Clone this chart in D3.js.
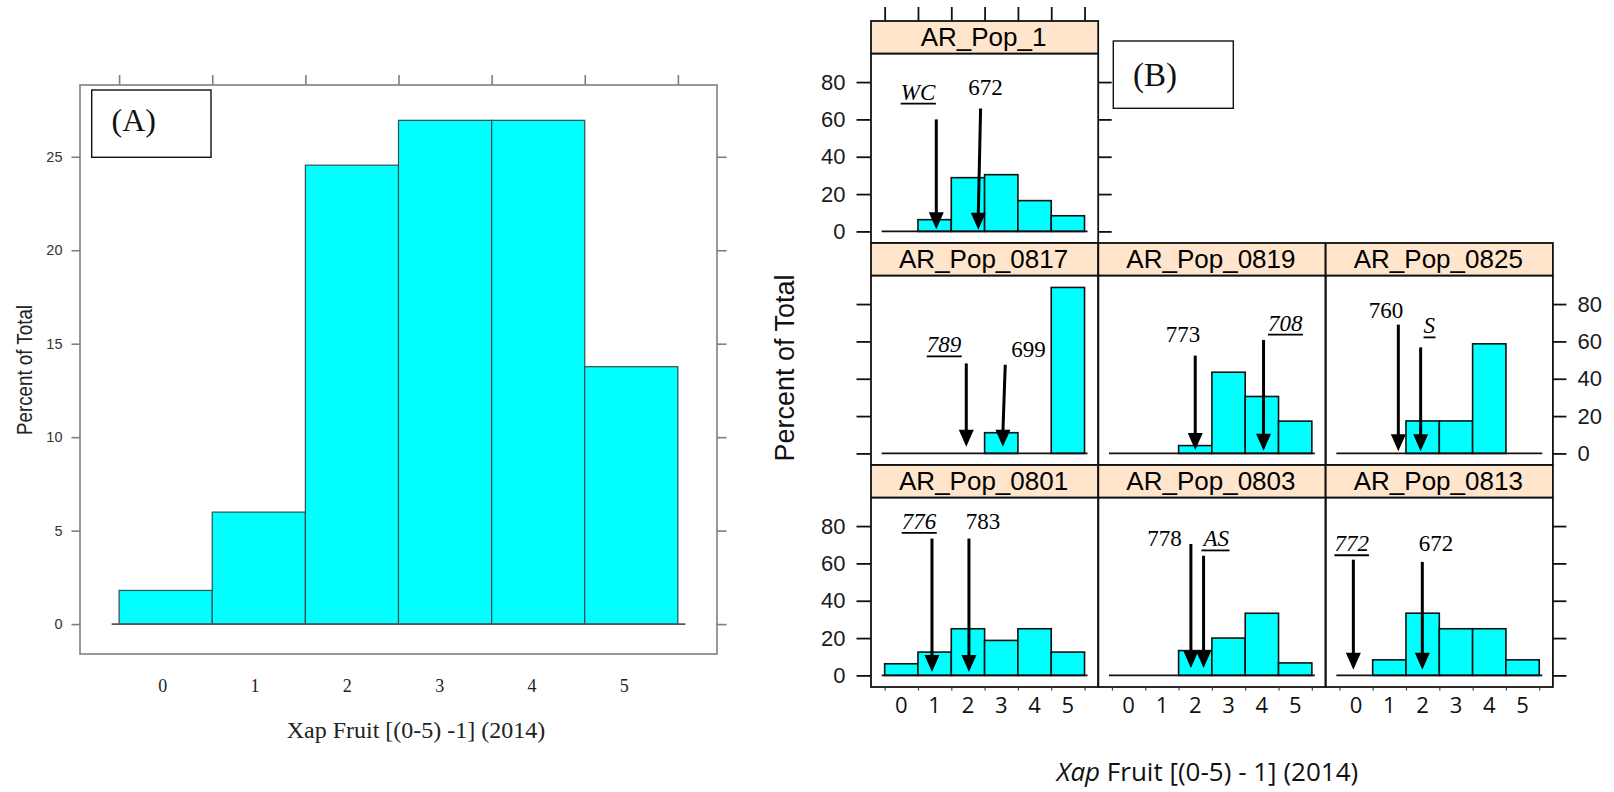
<!DOCTYPE html>
<html>
<head>
<meta charset="utf-8">
<script src="https://cdn.jsdelivr.net/npm/d3@7"></script>
<style>
  html, body { margin: 0; padding: 0; background: #fff; }
  svg { display: block; }
</style>
</head>
<body>
<svg id="chart" width="1614" height="792"></svg>
<script>
// Fruit score classes (0-5) used as histogram bins
const binLabels = [0, 1, 2, 3, 4, 5];

// (A) percentage of all plants in each class
const overallPct = [1.80, 5.99, 24.55, 26.95, 26.95, 13.77];
const overallTicks = [0, 5, 10, 15, 20, 25];

// (B) percentage per population
const panelNames = ["AR_Pop_1", "AR_Pop_0817", "AR_Pop_0819", "AR_Pop_0825",
                    "AR_Pop_0801", "AR_Pop_0803", "AR_Pop_0813"];
const pop1Pct    = [0, 6.3, 28.8, 30.4, 16.5, 8.4];
const pop0817Pct = [0, 0, 0, 11.1, 0, 88.9];
const pop0819Pct = [0, 0, 4.2, 43.5, 30.5, 17.3];
const pop0825Pct = [0, 0, 17.4, 17.4, 58.7, 0];
const pop0801Pct = [6.25, 12.5, 25, 18.75, 25, 12.5];
const pop0803Pct = [0, 0, 13.3, 20.0, 33.3, 6.7];
const pop0813Pct = [0, 8.33, 33.33, 25, 25, 8.33];
const popTicks = [0, 20, 40, 60, 80];

// Parent / reference genotype scores marked with arrows (data units).
// italic = reference line (drawn italic and underlined)
const markers = [
  {panel: "AR_Pop_1",    text: "WC",  italic: true,  x: 1.05, xTip: 1.05, top: 60,   tip: 1.2, lx: 0.50, ly: 70.6},
  {panel: "AR_Pop_1",    text: "672", italic: false, x: 2.38, xTip: 2.31, top: 65.8, tip: 0.9, lx: 2.53, ly: 72.9},
  {panel: "AR_Pop_0817", text: "789", italic: true,  x: 1.95, xTip: 1.95, top: 48.2, tip: 3.6, lx: 1.28, ly: 54.1},
  {panel: "AR_Pop_0817", text: "699", italic: false, x: 3.12, xTip: 3.05, top: 47.5, tip: 3.6, lx: 3.82, ly: 51.8},
  {panel: "AR_Pop_0819", text: "773", italic: false, x: 2.00, xTip: 2.00, top: 52.4, tip: 1.8, lx: 1.63, ly: 59.5},
  {panel: "AR_Pop_0819", text: "708", italic: true,  x: 4.05, xTip: 4.05, top: 60.8, tip: 1.4, lx: 4.70, ly: 65.8},
  {panel: "AR_Pop_0825", text: "760", italic: false, x: 1.27, xTip: 1.27, top: 69.0, tip: 1.1, lx: 0.90, ly: 72.6},
  {panel: "AR_Pop_0825", text: "S",   italic: true,  x: 1.94, xTip: 1.94, top: 56.8, tip: 1.1, lx: 2.20, ly: 64.3},
  {panel: "AR_Pop_0801", text: "776", italic: true,  x: 0.92, xTip: 0.92, top: 73.3, tip: 1.8, lx: 0.53, ly: 78.5},
  {panel: "AR_Pop_0801", text: "783", italic: false, x: 2.03, xTip: 2.03, top: 73.3, tip: 1.8, lx: 2.45, ly: 78.5},
  {panel: "AR_Pop_0803", text: "778", italic: false, x: 1.87, xTip: 1.87, top: 70.4, tip: 4.0, lx: 1.08, ly: 69.5},
  {panel: "AR_Pop_0803", text: "AS",  italic: true,  x: 2.25, xTip: 2.25, top: 64.1, tip: 4.0, lx: 2.63, ly: 69.1},
  {panel: "AR_Pop_0813", text: "772", italic: true,  x: -0.08, xTip: -0.08, top: 62.0, tip: 3.1, lx: -0.13, ly: 66.5},
  {panel: "AR_Pop_0813", text: "672", italic: false, x: 1.99, xTip: 1.99, top: 60.8, tip: 3.1, lx: 2.40, ly: 66.5}
];

const popValues = {
  "AR_Pop_1": pop1Pct, "AR_Pop_0817": pop0817Pct, "AR_Pop_0819": pop0819Pct,
  "AR_Pop_0825": pop0825Pct, "AR_Pop_0801": pop0801Pct, "AR_Pop_0803": pop0803Pct,
  "AR_Pop_0813": pop0813Pct
};

const SANS = "'Liberation Sans', Arial, Helvetica, sans-serif";
const SERIF = "'Liberation Serif', 'Times New Roman', serif";
const CAL = "'Open Sans', 'Noto Sans', sans-serif";
const CYAN = "#00ffff";

const svg = d3.select("#chart");

/* ------------------------------------------------------------------ */
/* (A) overall histogram                                               */
/* ------------------------------------------------------------------ */
(function drawOverall() {
  const box = {left: 80, right: 717, top: 85, bottom: 654};
  const gray = "#7f7f7f";
  const x = d3.scaleLinear().domain([-0.92, 5.92]).range([box.left, box.right]);
  const y = d3.scaleLinear().domain([-1.6, 28.84]).range([box.bottom, box.top]);
  const g = svg.append("g").attr("class", "panel-a");
  const edges = d3.range(binLabels.length + 1).map(i => i - 0.5);

  // bars
  g.selectAll("rect.bar").data(overallPct).join("rect")
    .attr("class", "bar")
    .attr("x", (d, i) => x(binLabels[i] - 0.5))
    .attr("width", (d, i) => x(binLabels[i] + 0.5) - x(binLabels[i] - 0.5))
    .attr("y", d => y(d))
    .attr("height", d => y(0) - y(d))
    .attr("fill", CYAN)
    .attr("stroke", "#2f4f4f")
    .attr("stroke-width", 1.2);

  // zero line
  g.append("line")
    .attr("x1", x(-0.58)).attr("x2", x(5.58))
    .attr("y1", y(0)).attr("y2", y(0))
    .attr("stroke", "#555").attr("stroke-width", 1.6);

  // frame
  g.append("rect")
    .attr("x", box.left).attr("y", box.top)
    .attr("width", box.right - box.left).attr("height", box.bottom - box.top)
    .attr("fill", "none").attr("stroke", gray).attr("stroke-width", 1.6);

  // left axis with labels
  const left = g.append("g").attr("transform", `translate(${box.left},0)`)
    .call(d3.axisLeft(y).tickValues(overallTicks).tickSize(8.5).tickPadding(9).tickFormat(d3.format("d")));
  left.select(".domain").remove();
  left.selectAll("line").attr("stroke", gray).attr("stroke-width", 1.6);
  left.selectAll("text").attr("font-family", SANS).attr("font-size", 14.5).attr("fill", "#333");

  // right axis, ticks only
  const right = g.append("g").attr("transform", `translate(${box.right},0)`)
    .call(d3.axisRight(y).tickValues(overallTicks).tickSize(9.5).tickFormat(""));
  right.select(".domain").remove();
  right.selectAll("line").attr("stroke", gray).attr("stroke-width", 1.6);

  // top axis, ticks at bin edges
  const top = g.append("g").attr("transform", `translate(0,${box.top})`)
    .call(d3.axisTop(x).tickValues(edges).tickSize(10).tickFormat(""));
  top.select(".domain").remove();
  top.selectAll("line").attr("stroke", gray).attr("stroke-width", 1.6);

  // bottom class labels
  g.selectAll("text.xlab").data(binLabels).join("text")
    .attr("class", "xlab")
    .attr("x", d => x(d) - 3 - d * 0.8)
    .attr("y", 692)
    .attr("text-anchor", "middle")
    .attr("font-family", SERIF).attr("font-size", 18).attr("fill", "#222")
    .text(d => d);

  // axis titles
  g.append("text")
    .attr("x", 416).attr("y", 738)
    .attr("text-anchor", "middle")
    .attr("font-family", SERIF).attr("font-size", 24).attr("fill", "#222")
    .text("Xap Fruit [(0-5) -1] (2014)");

  g.append("text")
    .attr("transform", "translate(32,370) rotate(-90)")
    .attr("text-anchor", "middle")
    .attr("font-family", SANS).attr("font-size", 22).attr("fill", "#222")
    .attr("textLength", 130).attr("lengthAdjust", "spacingAndGlyphs")
    .text("Percent of Total");

  // tag box
  g.append("rect").attr("x", 91.7).attr("y", 90).attr("width", 119.3).attr("height", 67.3)
    .attr("fill", "#fff").attr("stroke", "#111").attr("stroke-width", 1.4);
  g.append("text").attr("x", 111.5).attr("y", 131)
    .attr("font-family", SERIF).attr("font-size", 32).attr("fill", "#111")
    .text("(A)");
})();

/* ------------------------------------------------------------------ */
/* (B) per-population lattice                                         */
/* ------------------------------------------------------------------ */
(function drawLattice() {
  const colLeft = [871, 1098.3, 1325.7];
  const panelW = 227.2;
  const rowTop = [21, 243, 465];
  const stripH = 32.5;
  const panelH = 189.5;
  const ink = "#111";
  const lw = 1.8;
  const layout = {
    "AR_Pop_1": [0, 0], "AR_Pop_0817": [1, 0], "AR_Pop_0819": [1, 1], "AR_Pop_0825": [1, 2],
    "AR_Pop_0801": [2, 0], "AR_Pop_0803": [2, 1], "AR_Pop_0813": [2, 2]
  };
  const edges = d3.range(binLabels.length + 1).map(i => i - 0.5);

  const g = svg.append("g").attr("class", "panel-b");

  panelNames.forEach(name => {
    const [r, c] = layout[name];
    const left = colLeft[c], right = left + panelW;
    const sTop = rowTop[r], pTop = sTop + stripH, pBot = pTop + panelH;
    const x = d3.scaleLinear().domain([-0.91, 5.91]).range([left, right]);
    const y = d3.scaleLinear().domain([-6.2, 95.3]).range([pBot, pTop]);
    const vals = popValues[name];
    const pg = g.append("g").attr("class", "pop");

    // bars (empty classes draw nothing)
    pg.selectAll("rect.bar").data(vals.map((v, i) => ({v, k: binLabels[i]})).filter(d => d.v > 0))
      .join("rect")
      .attr("class", "bar")
      .attr("x", d => x(d.k - 0.5))
      .attr("width", d => x(d.k + 0.5) - x(d.k - 0.5))
      .attr("y", d => y(d.v))
      .attr("height", d => y(0) - y(d.v))
      .attr("fill", CYAN).attr("stroke", ink).attr("stroke-width", 1.6);

    // zero line
    pg.append("line")
      .attr("x1", x(-0.59)).attr("x2", x(5.59))
      .attr("y1", y(0)).attr("y2", y(0))
      .attr("stroke", ink).attr("stroke-width", 1.6);

    // frame
    pg.append("rect").attr("x", left).attr("y", pTop).attr("width", panelW).attr("height", panelH)
      .attr("fill", "none").attr("stroke", ink).attr("stroke-width", lw);

    // strip (drawn after the frame so the label sits on top)
    pg.append("rect").attr("x", left).attr("y", sTop).attr("width", panelW).attr("height", stripH)
      .attr("fill", "#ffe5cc").attr("stroke", ink).attr("stroke-width", lw);
    pg.append("text")
      .attr("x", (left + right) / 2 - 1).attr("y", pTop - 8)
      .attr("text-anchor", "middle")
      .attr("font-family", SANS).attr("font-size", 26).attr("fill", "#000")
      .text(name);

    // left axis on first column: labels on rows 1 and 3
    if (c === 0) {
      const ax = pg.append("g").attr("transform", `translate(${left},0)`)
        .call(d3.axisLeft(y).tickValues(popTicks).tickSize(14.5).tickPadding(11)
          .tickFormat(r === 1 ? "" : d3.format("d")));
      ax.select(".domain").remove();
      ax.selectAll("line").attr("stroke", ink).attr("stroke-width", lw);
      ax.selectAll("text").attr("font-family", SANS).attr("font-size", 22).attr("fill", "#1a1a1a");
    }
    // right axis on last panel of each row: labels on row 2
    const lastInRow = (r === 0 && c === 0) || c === 2;
    if (lastInRow) {
      const ax = pg.append("g").attr("transform", `translate(${right},0)`)
        .call(d3.axisRight(y).tickValues(popTicks).tickSize(13.5).tickPadding(11)
          .tickFormat(r === 1 ? d3.format("d") : ""));
      ax.select(".domain").remove();
      ax.selectAll("line").attr("stroke", ink).attr("stroke-width", lw);
      ax.selectAll("text").attr("font-family", SANS).attr("font-size", 22).attr("fill", "#1a1a1a");
    }
    // top ticks above the first row
    if (r === 0) {
      const ax = pg.append("g").attr("transform", `translate(0,${sTop})`)
        .call(d3.axisTop(x).tickValues(edges).tickSize(14).tickFormat(""));
      ax.select(".domain").remove();
      ax.selectAll("line").attr("stroke", ink).attr("stroke-width", lw);
    }
    // bottom row: small ticks at bin edges, class labels at centres
    if (r === 2) {
      const ax = pg.append("g").attr("transform", `translate(0,${pBot})`)
        .call(d3.axisBottom(x).tickValues(edges).tickSize(3.5).tickFormat(""));
      ax.select(".domain").remove();
      ax.selectAll("line").attr("stroke", "#444").attr("stroke-width", 1.2);
      pg.selectAll("text.xlab").data(binLabels).join("text")
        .attr("class", "xlab")
        .attr("x", d => x(d)).attr("y", 713)
        .attr("text-anchor", "middle")
        .attr("font-family", CAL).attr("font-size", 22).attr("fill", "#111")
        .text(d => d);
    }

    // genotype arrows
    markers.filter(m => m.panel === name).forEach(m => {
      const tipX = x(m.xTip), tipY = y(m.tip);
      const headH = 17, headW = 15;
      pg.append("line")
        .attr("x1", x(m.x)).attr("y1", y(m.top))
        .attr("x2", tipX).attr("y2", tipY - headH + 2)
        .attr("stroke", "#000").attr("stroke-width", 3);
      pg.append("path")
        .attr("d", `M${tipX},${tipY} L${tipX - headW / 2},${tipY - headH} L${tipX + headW / 2},${tipY - headH} Z`)
        .attr("fill", "#000");
      const t = pg.append("text")
        .attr("x", x(m.lx)).attr("y", y(m.ly))
        .attr("text-anchor", "middle")
        .attr("font-family", SERIF).attr("font-size", 23)
        .attr("font-style", m.italic ? "italic" : "normal")
        .attr("fill", "#000")
        .text(m.text);
      if (m.italic) {
        const bb = t.node().getBBox();
        pg.append("line")
          .attr("x1", bb.x).attr("x2", bb.x + bb.width)
          .attr("y1", y(m.ly) + 4).attr("y2", y(m.ly) + 4)
          .attr("stroke", "#000").attr("stroke-width", 1.8);
      }
    });
  });

  // shared axis titles
  g.append("text")
    .attr("transform", "translate(794,368) rotate(-90)")
    .attr("text-anchor", "middle")
    .attr("font-family", SANS).attr("font-size", 27).attr("fill", "#111")
    .text("Percent of Total");

  const xt = g.append("text")
    .attr("x", 1207.5).attr("y", 781)
    .attr("text-anchor", "middle")
    .attr("font-family", CAL).attr("font-size", 26).attr("fill", "#111");
  xt.append("tspan").attr("font-style", "italic").text("Xap");
  xt.append("tspan").text(" Fruit [(0-5) - 1] (2014)");

  // tag box
  g.append("rect").attr("x", 1113.3).attr("y", 41).attr("width", 120).attr("height", 67.3)
    .attr("fill", "#fff").attr("stroke", "#111").attr("stroke-width", 1.4);
  g.append("text").attr("x", 1133).attr("y", 86)
    .attr("font-family", SERIF).attr("font-size", 33).attr("fill", "#111")
    .text("(B)");
})();
</script>
</body>
</html>
